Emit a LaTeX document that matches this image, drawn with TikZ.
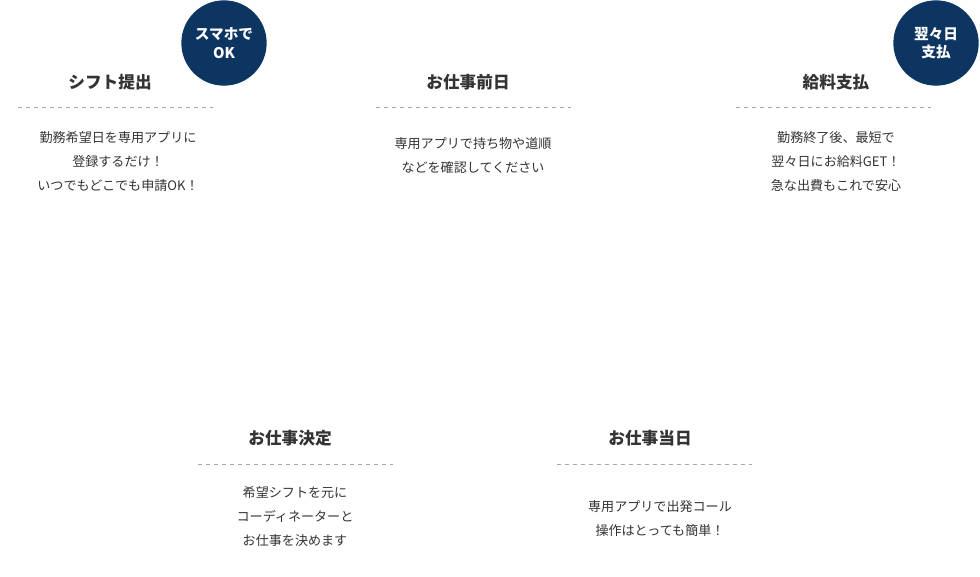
\documentclass[tikz,border=0pt]{standalone}
\usepackage{fontspec}
\setmainfont{Noto Sans CJK JP}
\definecolor{navy}{HTML}{0D3561}
\definecolor{ink}{HTML}{333333}
\tikzset{every picture/.style={line width=0.75pt}}
\tikzset{
  steptitle/.style={text=ink,font=\fontsize{12.5}{14}\selectfont\bfseries,inner sep=0.75pt},
  stepbody/.style={text=ink,font=\fontsize{9.8}{18}\selectfont,align=center,inner sep=0.75pt},
  badge/.style={circle,fill=navy,text=white,minimum size=64pt,align=center,
    font=\fontsize{11}{14}\selectfont\bfseries,inner sep=0pt},
  rule/.style={draw=black!35,dashed,line width=0.6pt}
}
\begin{document}
\begin{tikzpicture}[x=0.75pt,y=0.75pt,yscale=-1,xscale=1]
\useasboundingbox (0,0) rectangle (980,577);

% Step 1
\node (t1) [steptitle] at (110,82) {シフト提出};
\draw [rule] (18,107) -- (213,107);
\node (b1) [stepbody] at (118,162) {勤務希望日を専用アプリに\\登録するだけ！\\いつでもどこでも申請OK！};
\node (c1) [badge] at (224,43) {スマホで\\OK};

% Step 2
\node (t2) [steptitle] at (468,82) {お仕事前日};
\draw [rule] (376,107) -- (571,107);
\node (b2) [stepbody] at (473,156) {専用アプリで持ち物や道順\\などを確認してください};

% Step 3
\node (t3) [steptitle] at (836,82) {給料支払};
\draw [rule] (736,107) -- (931,107);
\node (b3) [stepbody] at (836,162) {勤務終了後、最短で\\翌々日にお給料GET！\\急な出費もこれで安心};
\node (c3) [badge] at (936,43) {翌々日\\支払};

% Step 4
\node (t4) [steptitle] at (290,438) {お仕事決定};
\draw [rule] (198,464) -- (393,464);
\node (b4) [stepbody] at (295,517) {希望シフトを元に\\コーディネーターと\\お仕事を決めます};

% Step 5
\node (t5) [steptitle] at (650,438) {お仕事当日};
\draw [rule] (557,464) -- (752,464);
\node (b5) [stepbody] at (660,519) {専用アプリで出発コール\\操作はとっても簡単！};

\end{tikzpicture}
\end{document}
